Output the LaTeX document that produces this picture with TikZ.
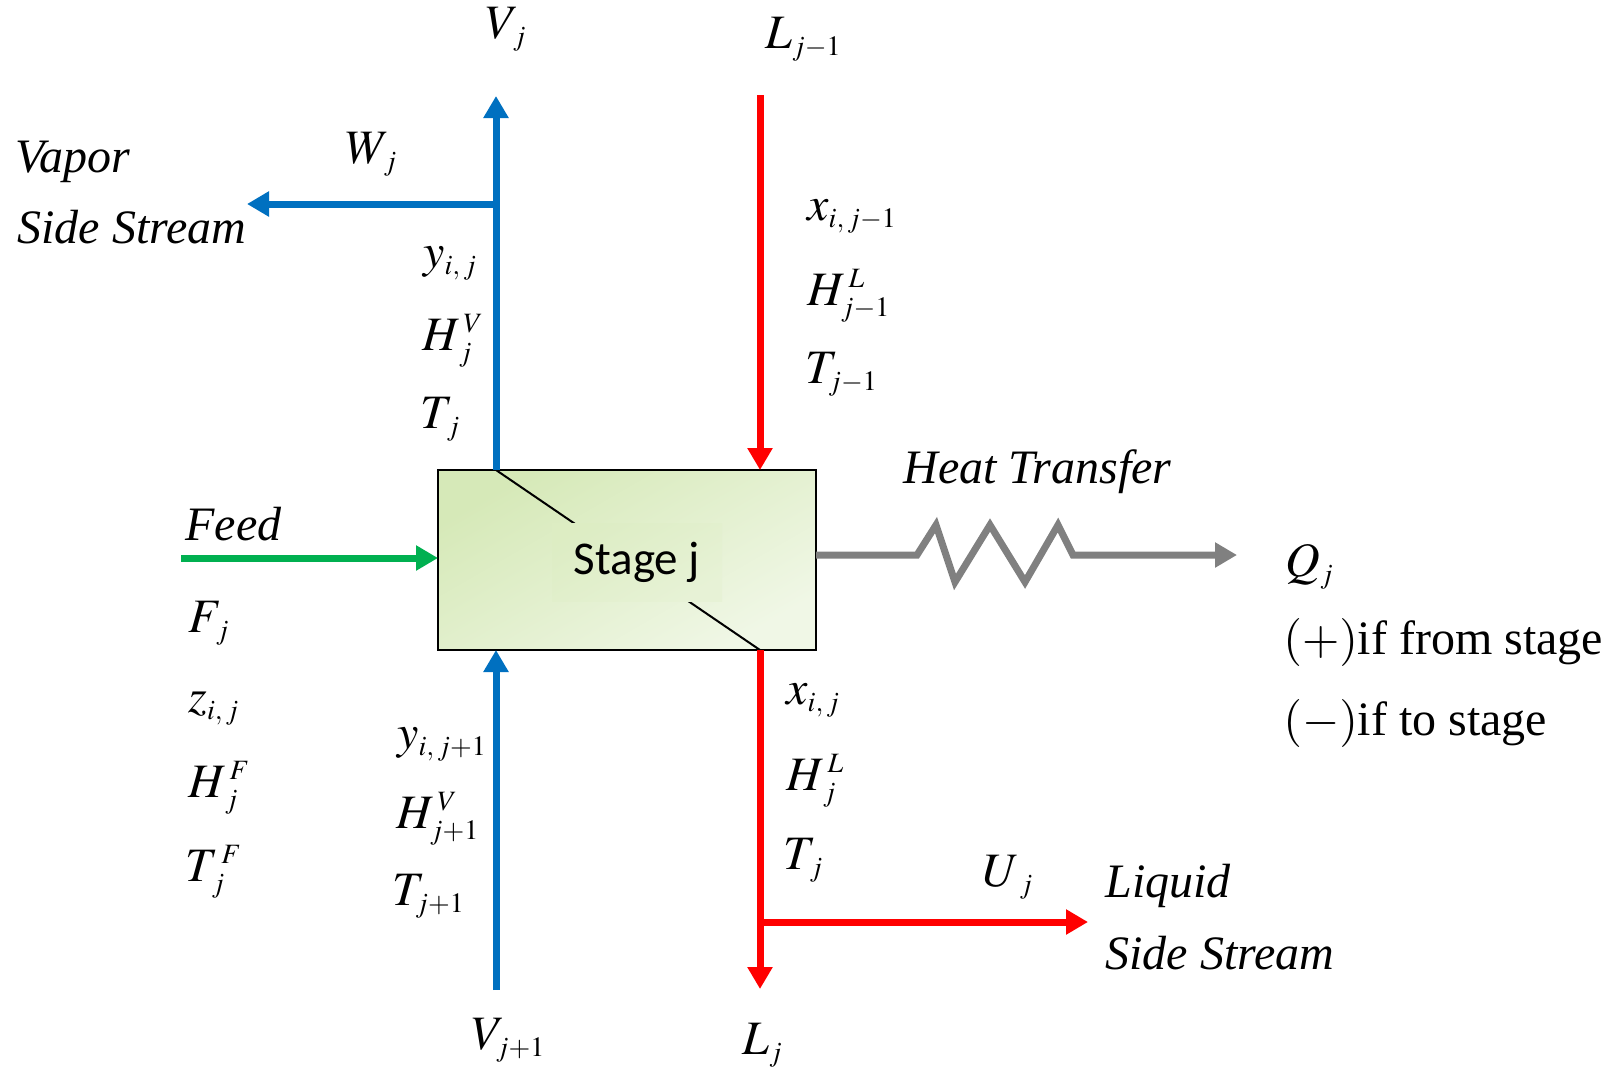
\documentclass[tikz,border=0pt]{standalone}
\usepackage{mathptmx}
\usepackage{fontspec}
\setmainfont{Liberation Serif}
\newfontfamily\stagefont{Carlito}
\usetikzlibrary{arrows.meta}
\DeclareMathSizes{24}{24}{14}{11}

\definecolor{vapblue}{RGB}{0,112,192}
\definecolor{liqred}{RGB}{255,0,0}
\definecolor{feedgreen}{RGB}{0,176,80}
\definecolor{heatgray}{RGB}{128,128,128}
\definecolor{stagetop}{RGB}{214,233,184}
\definecolor{stagebot}{RGB}{240,247,230}

\tikzset{
  lbl/.style={font=\fontsize{24}{28}\selectfont, inner sep=0pt, anchor=base west},
  stream/.style={line width=3.5pt},
}

\begin{document}
\begin{tikzpicture}[>={Triangle[length=11pt,width=12pt]}, x=0.5pt, y=-0.5pt]
  \useasboundingbox (0,0) rectangle (1612,1067);

  % Stage box
  \node[draw, line width=1.3pt, minimum width=189pt, minimum height=90pt, inner sep=0pt,
        top color=stagetop, bottom color=stagebot, shading angle=30] (stage) at (627,560) {};

  \coordinate (vout) at (496,470);
  \coordinate (vtip) at (496,96);
  \coordinate (wjunc) at (496,204);
  \coordinate (wtip) at (247,204);
  \coordinate (vin) at (496,990);
  \coordinate (vintip) at (496,650);
  \coordinate (lin) at (760,95);
  \coordinate (lintip) at (760,470);
  \coordinate (lout) at (760,650);
  \coordinate (ltip) at (760,989);
  \coordinate (ujunc) at (760,922);
  \coordinate (utip) at (1088,922);
  \coordinate (feedin) at (181,558);
  \coordinate (feedtip) at (438,558);
  \coordinate (qout) at (816,555);
  \coordinate (qtip) at (1237,555);

  \draw[line width=1pt] (vout) -- (lout);
  \node[font=\stagefont\fontsize{23.5}{28}\selectfont, minimum width=85pt, minimum height=39pt,
        top color=stagetop!75!stagebot, bottom color=stagetop!35!stagebot, shading angle=30]
        (stagelbl) at (637,562) {Stage j};

  % Vapor streams
  \draw[stream, vapblue, ->] (vout) -- (vtip);
  \draw[stream, vapblue, ->] (wjunc) -- (wtip);
  \draw[stream, vapblue, ->] (vin) -- (vintip);

  % Liquid streams
  \draw[stream, liqred, ->] (lin) -- (lintip);
  \draw[stream, liqred, ->] (lout) -- (ltip);
  \draw[stream, liqred, ->] (ujunc) -- (utip);

  % Feed and heat transfer
  \draw[stream, feedgreen, ->] (feedin) -- (feedtip);
  \draw[stream, heatgray, ->] (qout) -- (917,555) -- (936,525) -- (955,582) -- (990,525)
    -- (1025,582) -- (1058,525) -- (1073,555) -- (qtip);

  % Labels
  \node[lbl] (vj) at (485,38) {$V_{\,j}$};
  \node[lbl] (ljm) at (765,48) {$L_{j-1}$};
  \node[lbl] (vapor) at (15,172) {\textit{Vapor}};
  \node[lbl] (vside) at (17,243) {\textit{Side Stream}};
  \node[lbl] (wj) at (345,163) {$W_{\,j}$};
  \node[lbl] (yij) at (423,267) {$y_{i,\,j}$};
  \node[lbl] (hvj) at (422,350) {$H_{\,j}^{\,V}$};
  \node[lbl] (tj) at (420,428) {$T_{\,j}$};
  \node[lbl] (xijm) at (807,220) {$x_{i,\,j-1}$};
  \node[lbl] (hljm) at (807,305) {$H_{j-1}^{\,L}$};
  \node[lbl] (tjm) at (805,383) {$T_{j-1}$};
  \node[lbl] (heat) at (903,483) {\textit{Heat Transfer}};
  \node[lbl] (feed) at (185,540) {\textit{Feed}};
  \node[lbl] (fj) at (188,632) {$F_{\,j}$};
  \node[lbl] (zij) at (188,712) {$z_{i,\,j}$};
  \node[lbl] (hfj) at (188,797) {$H_{\,j}^{\,F}$};
  \node[lbl] (tfj) at (185,881) {$T_{\,j}^{\,F}$};
  \node[lbl] (yijp) at (397,748) {$y_{i,\,j+1}$};
  \node[lbl] (hvjp) at (396,828) {$H_{j+1}^{\,V}$};
  \node[lbl] (tjp) at (392,905) {$T_{j+1}$};
  \node[lbl] (vjp) at (471,1049) {$V_{j+1}$};
  \node[lbl] (lj) at (742,1054) {$L_{j}$};
  \node[lbl] (xij) at (786,704) {$x_{i,\,j}$};
  \node[lbl] (hlj) at (786,790) {$H_{\,j}^{\,L}$};
  \node[lbl] (tjl) at (783,869) {$T_{\,j}$};
  \node[lbl] (uj) at (982,886) {$U_{\;j}$};
  \node[lbl] (liquid) at (1105,897) {\textit{Liquid}};
  \node[lbl] (lside) at (1105,969) {\textit{Side Stream}};
  \node[lbl] (qj) at (1285,576) {$Q_{j}$};
  \node[lbl] (qplus) at (1283,654) {$(+)$if from stage};
  \node[lbl] (qminus) at (1283,735) {$(-)$if to stage};
\end{tikzpicture}
\end{document}
